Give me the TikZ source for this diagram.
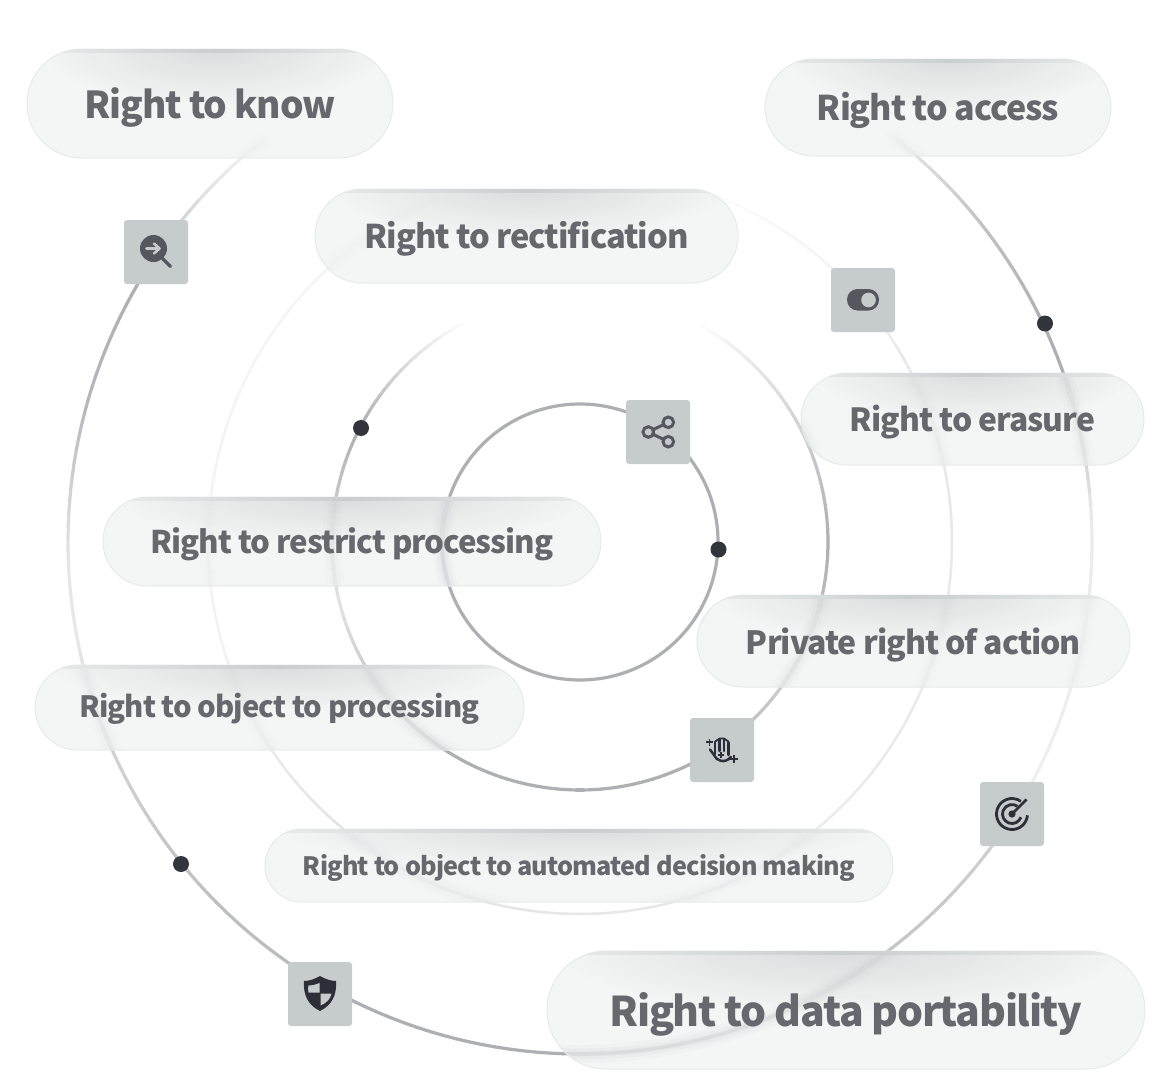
\documentclass[tikz,border=0pt]{standalone}
\usepackage{graphicx}
\usepackage{fontspec}
\newfontfamily\labfont{Noto Sans CJK SC}[LetterSpace=-3.2]
\definecolor{ringc}{HTML}{ADAFB2}
\definecolor{pillf}{HTML}{F3F4F4}
\definecolor{pillb}{HTML}{E8EAEA}
\definecolor{glowc}{HTML}{D8DBDB}
\definecolor{edgec}{HTML}{CACECE}
\definecolor{tilec}{HTML}{C6CBCB}
\definecolor{iconm}{HTML}{55575E}
\definecolor{icond}{HTML}{2C2F37}
\definecolor{txtc}{HTML}{66686D}
\definecolor{dotc}{HTML}{33353D}
\tikzset{
  pillnode/.style={draw=pillb,line width=1pt,inner sep=0pt,text=txtc,font=\labfont\bfseries},
  tile/.style={fill=tilec,rounded corners=3pt,minimum width=64pt,minimum height=64pt,inner sep=0pt},
  ringdot/.style={circle,fill=dotc,minimum size=16pt,inner sep=0pt},
  iconline/.style={line width=2.6pt,line cap=round,line join=round},
}
\newif\ifblurring
\newcommand\blurw{10}
\newcommand\blurop{.1}
% ring part: radius, width, a0, a1, p0, p1
\newcommand\ringpart[6]{%
  \pgfmathtruncatemacro\nseg{max(1,ceil(abs(#4-#3)/1.5))}%
  \foreach \kk in {1,...,\nseg}{%
    \pgfmathsetmacro\aa{#3+(#4-#3)/\nseg*(\kk-1)}%
    \pgfmathsetmacro\ab{#3+(#4-#3)/\nseg*\kk}%
    \pgfmathsetmacro\pp{#5+(#6-#5)/\nseg*(\kk-.5)}%
    \ifblurring
      \pgfmathsetmacro\oo{\blurop*\pp/100}%
      \draw[color=ringc,opacity=\oo,line width=\blurw pt]
        ({580+#1*cos(\aa)},{542-#1*sin(\aa)}) -- ({580+#1*cos(\ab)},{542-#1*sin(\ab)});
    \else
      \draw[color=ringc!\pp!white,line width=#2pt,line cap=round]
        ({580+#1*cos(\aa)},{542-#1*sin(\aa)}) -- ({580+#1*cos(\ab)},{542-#1*sin(\ab)});
    \fi
  }%
}
\newcommand\allrings{%
\ringpart{512}{3.2}{53}{48.3}{5}{40}
\ringpart{512}{3.2}{48.3}{38.8}{40}{75}
\ringpart{512}{3.2}{38.8}{25}{75}{100}
\ringpart{512}{3.2}{25}{18.5}{100}{100}
\ringpart{512}{3.2}{18.5}{2.5}{100}{25}
\ringpart{512}{3.2}{2.5}{-28.6}{25}{20}
\ringpart{512}{3.2}{-28.6}{-37}{20}{60}
\ringpart{512}{3.2}{-37}{-92}{60}{100}
\ringpart{512}{3.2}{-92}{-116}{100}{100}
\ringpart{512}{3.2}{-116}{-125}{100}{85}
\ringpart{512}{3.2}{-125}{-141}{85}{75}
\ringpart{512}{3.2}{-141}{-156}{75}{55}
\ringpart{512}{3.2}{-156}{-169}{55}{30}
\ringpart{512}{3.2}{-169}{-177.5}{30}{30}
\ringpart{512}{3.2}{-177.5}{-196}{30}{90}
\ringpart{512}{3.2}{-196}{-210.3}{90}{100}
\ringpart{512}{3.2}{-210.3}{-222}{100}{40}
\ringpart{512}{3.2}{-222}{-232}{40}{10}
\ringpart{248}{3.2}{117}{130}{0}{30}
\ringpart{248}{3.2}{130}{152.5}{30}{100}
\ringpart{248}{3.2}{152.5}{170}{100}{70}
\ringpart{248}{3.2}{170}{195}{70}{35}
\ringpart{248}{3.2}{195}{215}{35}{70}
\ringpart{248}{3.2}{215}{235}{70}{100}
\ringpart{248}{3.2}{235}{296}{100}{100}
\ringpart{248}{3.2}{296}{327}{100}{60}
\ringpart{248}{3.2}{327}{360}{60}{100}
\ringpart{248}{3.2}{0}{45}{100}{30}
\ringpart{248}{3.2}{45}{61}{30}{3}
\ringpart{372}{2.5}{72}{58}{0}{10}
\ringpart{372}{2.5}{58}{40}{10}{15}
\ringpart{372}{2.5}{40}{28}{15}{30}
\ringpart{372}{2.5}{28}{-50}{30}{25}
\ringpart{372}{2.5}{-50}{-90}{25}{30}
\ringpart{372}{2.5}{-90}{-130}{30}{35}
\ringpart{372}{2.5}{-130}{-165}{35}{15}
\ringpart{372}{2.5}{-165}{-226}{15}{12}
\ringpart{372}{2.5}{-226}{-250}{12}{0}
}
\newcommand\glowat[4]{\shade[inner color=glowc,outer color=pillf,opacity=.88] (#1,#2) ellipse (#3pt and #4pt);}
% pill background: x0 y0 x1 y1 glows
\newcommand\pillbg[5]{%
  \pgfmathsetmacro\pr{(#4-#2)/2}%
  \begin{scope}
    \path[clip,rounded corners=\pr pt] (#1,#2) rectangle (#3,#4);
    \fill[pillf,opacity=.85] (#1,#2) rectangle (#3,#4);
    #5
  \end{scope}
}
% pill text: name x0 y0 x1 y1 textwidth text edge-centre baseline-offset
\newcommand\pilltext[9]{%
  \pgfmathsetmacro\pw{#4-#2}\pgfmathsetmacro\ph{#5-#3}%
  \pgfmathsetmacro\pr{\ph/2}%
  \node[pillnode,rounded corners=\pr pt,minimum width=\pw pt,minimum height=\ph pt] (#1) at ({(#2+#4)/2},{(#3+#5)/2}) {\raisebox{-#9pt}[0pt][0pt]{\resizebox{#6pt}{!}{#7}}};
  \begin{scope}
    \path[clip,rounded corners=\pr pt] (#2,#3) rectangle (#4,#5);
    \shade[left color=pillb,right color=edgec] ({#2+15},#3) rectangle (#8,{#3+3});
    \shade[left color=edgec,right color=pillb] (#8,#3) rectangle ({#4-15},{#3+3});
  \end{scope}
}
\begin{document}
\begin{tikzpicture}[x=1pt,y=-1pt]
\useasboundingbox (0,0) rectangle (1160,1084);
\fill[white] (0,0) rectangle (1160,1084);
% rings
\allrings
\draw[ringc,line width=3.2pt] (580,542) circle (138);
% pills: backgrounds
\pillbg{27}{49}{393}{158}{\glowat{215}{49}{170}{56}}
\pillbg{765}{59}{1111}{156}{\glowat{950}{59}{160}{50}}
\pillbg{315}{189}{738}{283}{\glowat{530}{189}{195}{48}}
\pillbg{801}{373}{1144}{465}{\glowat{975}{373}{155}{48}}
\pillbg{103}{497}{601}{586}{\glowat{350}{497}{235}{46}}
\pillbg{697}{595}{1130}{687}{\glowat{910}{595}{195}{46}}
\pillbg{35}{665}{524}{750}{\glowat{280}{665}{230}{44}}
\pillbg{265}{829}{893}{902}{\glowat{580}{829}{295}{38}}
\pillbg{547}{951}{1145}{1069}{\glowat{840}{951}{280}{60}}
% rings seen blurred through the pills
\begin{scope}
\path[clip] [rounded corners=54.5pt] (27,49) rectangle (393,158)
  [rounded corners=48.5pt] (765,59) rectangle (1111,156)
  [rounded corners=47pt] (315,189) rectangle (738,283)
  [rounded corners=46pt] (801,373) rectangle (1144,465)
  [rounded corners=44.5pt] (103,497) rectangle (601,586)
  [rounded corners=46pt] (697,595) rectangle (1130,687)
  [rounded corners=42.5pt] (35,665) rectangle (524,750)
  [rounded corners=36.5pt] (265,829) rectangle (893,902)
  [rounded corners=59pt] (547,951) rectangle (1145,1069);
\blurringtrue
\renewcommand\blurw{18}\renewcommand\blurop{.05}\allrings
\renewcommand\blurw{11}\renewcommand\blurop{.08}\allrings
\renewcommand\blurw{5}\renewcommand\blurop{.12}\allrings
\blurringfalse
\draw[ringc,line width=18pt,opacity=.05] (580,542) circle (138);
\draw[ringc,line width=11pt,opacity=.08] (580,542) circle (138);
\draw[ringc,line width=5pt,opacity=.12] (580,542) circle (138);
\end{scope}
% pills: borders and text
\pilltext{know}{27}{49}{393}{158}{251}{Right to know}{215}{14.8}
\pilltext{access}{765}{59}{1111}{156}{242}{Right to access}{950}{13.2}
\pilltext{rectif}{315}{189}{738}{283}{324}{Right to rectification}{530}{12.5}
\pilltext{erasure}{801}{373}{1144}{465}{245}{Right to erasure}{975}{12.7}
\pilltext{restrict}{103}{497}{601}{586}{403}{Right to restrict processing}{350}{11.8}
\pilltext{private}{697}{595}{1130}{687}{335}{Private right of action}{910}{13}
\pilltext{object}{35}{665}{524}{750}{400}{Right to object to processing}{280}{9.8}
\pilltext{auto}{265}{829}{893}{902}{552}{Right to object to automated decision making}{580}{9.5}
\pilltext{port}{547}{951}{1145}{1069}{473}{Right to data portability}{840}{16.7}
% tiles
\node[tile] (t1) at (156,252) {};
\node[tile] (t2) at (863,300) {};
\node[tile] (t3) at (658,432) {};
\node[tile] (t4) at (722,750) {};
\node[tile] (t5) at (1012,814) {};
\node[tile] (t6) at (320,994) {};
% dots
\node[ringdot] (d1) at (1045,323.5) {};
\node[ringdot] (d2) at (361,428) {};
\node[ringdot] (d3) at (718.5,549.5) {};
\node[ringdot] (d4) at (181,864) {};
% magnifier
\fill[iconm] (153.5,248.5) circle (13.5);
\draw[iconm,iconline,line width=3.4pt] (162,258) -- (170.5,266.5);
\draw[tilec,line width=2.6pt,line cap=round,line join=round] (146.5,248.5) -- (159,248.5) (154,243.5) -- (159.5,248.5) -- (154,253.5);
% toggle
\fill[iconm,rounded corners=10.5pt] (847,289) rectangle (879,310.5);
\fill[tilec] (868.5,300) circle (7.3);
% share
\draw[iconm,line width=3pt] (668.3,422.3) circle (5.3) (648.3,432) circle (5.3) (668.3,441.7) circle (5.3);
\draw[iconm,line width=3pt] (653,429.7) -- (663.6,424.6) (653,434.3) -- (663.6,439.4);
% hand
\draw[icond,iconline,line width=2.5pt] (710,749.5) -- (714,755) .. controls (716,761) and (725,764) .. (731,757);
\draw[icond,iconline,line width=2.5pt] (715.2,754) -- (715.2,742) (719.6,751) -- (719.6,739.5) (724,751) -- (724,739.5) (728.5,755) -- (728.5,742.5);
\draw[icond,iconline,line width=1.8pt] (715.2,741.5) -- (719.6,738.5) -- (724,738.5) -- (728.5,741.5);
\draw[icond,line width=1.7pt] (706,742.3) -- (713,742.3) (709.5,738.8) -- (709.5,745.8);
\draw[icond,line width=1.9pt] (730,758.7) -- (738,758.7) (734,754.7) -- (734,762.7);
\draw[icond,line width=1.2pt] (718,755) -- (724,755) (721,752) -- (721,758);
% target
\fill[icond] (1012,814) circle (3.6);
\draw[icond,line width=2.6pt,line cap=butt] (1012,814) -- (1026.5,799.5);
\draw[icond,line width=2.8pt] ({1012+9.5*cos(-20)},{814-9.5*sin(-20)}) arc[start angle=20,end angle=305,radius=9.5];
\draw[icond,line width=2.8pt] ({1012+15.5*cos(-5)},{814-15.5*sin(-5)}) arc[start angle=5,end angle=305,radius=15.5];
% shield
\fill[icond] (320,976) .. controls (325,979) and (331,981) .. (336,981) .. controls (337,995) and (332,1005) .. (320,1011) .. controls (308,1005) and (303,995) .. (304,981) .. controls (309,981) and (315,979) .. (320,976) -- cycle;
\fill[tilec] (319.5,983) -- (319.5,992.5) -- (308.5,992.5) .. controls (308,990) and (308,988) .. (308.5,985.5) .. controls (312,985.5) and (316,984.5) .. (319.5,983) -- cycle;
\fill[tilec] (320.5,993.5) -- (331.5,993.5) .. controls (330.5,999) and (326.5,1003) .. (320.5,1005.5) -- cycle;
\end{tikzpicture}
\end{document}
